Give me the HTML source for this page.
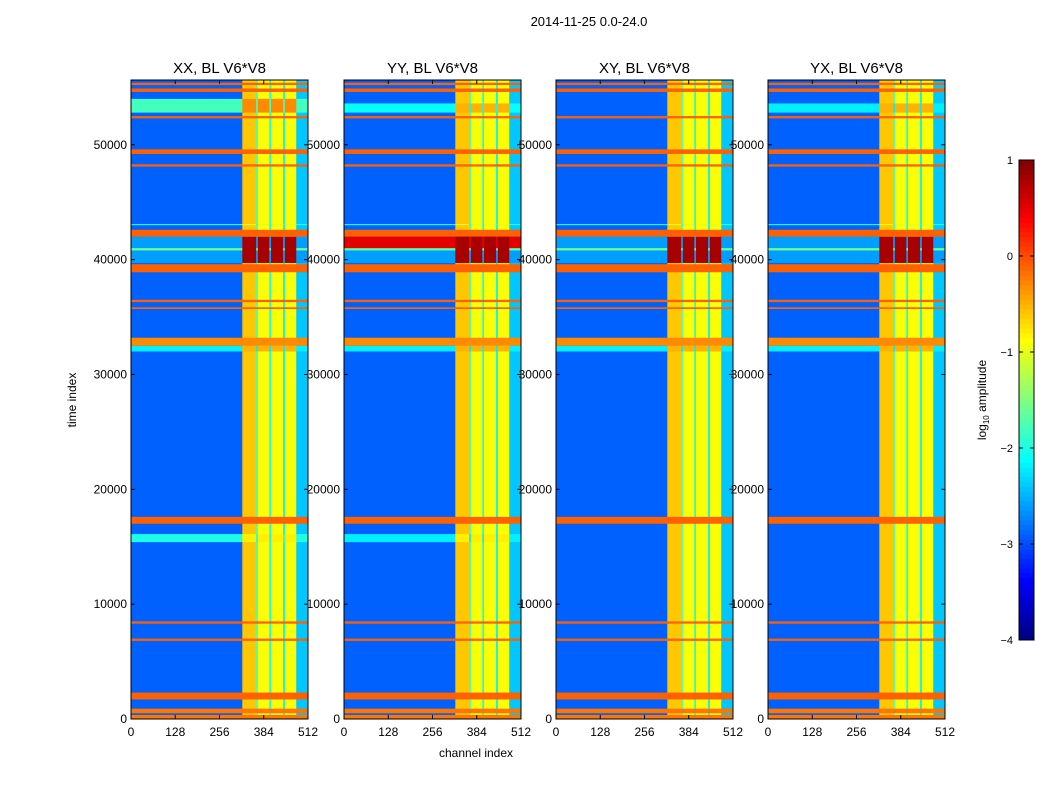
<!DOCTYPE html>
<html><head><meta charset="utf-8"><style>
body{margin:0;background:#fff;font-family:"Liberation Sans",sans-serif}
svg text{font-family:"Liberation Sans",sans-serif;fill:#000}
</style></head><body>
<svg id="fig" width="1050" height="800"></svg>
<script>
const titles=["XX, BL V6*V8","YY, BL V6*V8","XY, BL V6*V8","YX, BL V6*V8"];
const xTicks=[0,128,256,384,512];
const yTicks=[0,10000,20000,30000,40000,50000];
const cbTicks=[1,0,-1,-2,-3,-4];
// channel bands: [startChan,endChan,log10 amplitude,isRfiBand]
const chanBands=[[0,322,-2.9,0],[322,362,-0.6,1],[362,367,-1.8,0],[367,400,-0.9,1],[400,405,-2.0,0],[405,440,-0.9,1],[440,445,-2.2,0],[445,478,-0.9,1],[478,512,-2.4,0]];
// time rows: [t0,t1,bgValue,bandValue]
const timeRows=[[0,350,-0.2,-0.2],[500,900,-0.2,-0.2],[1700,2300,-0.1,-0.1],[6800,7000,-0.1,-0.1],[8300,8500,-0.1,-0.1],[17000,17600,-0.1,-0.1],[32000,32500,-2.2,-0.5],[32500,33200,-0.3,-0.3],[35700,35850,-0.1,-0.1],[36300,36500,-0.1,-0.1],[38900,39600,-0.1,-0.1],[39700,42000,-2.6,0.8],[40800,41000,-1.6,0.8],[42000,42600,-0.1,-0.1],[43000,43100,-2.0,-1.0],[48100,48300,-0.1,-0.1],[49200,49600,-0.1,-0.1],[52300,52500,-0.1,-0.1],[54600,54900,-0.1,-0.1],[55200,55400,-0.1,-0.1]];
// panel-specific extra rows: [panel,t0,t1,bgValue,bandValue]
const extraRows=[[0,15400,16100,-2.0,-0.8],[0,52800,54000,-1.8,-0.3],[1,15400,16100,-2.2,-0.8],[1,41000,42000,0.5,0.8],[1,52800,53600,-2.1,-0.5],[3,52800,53600,-2.2,-0.5]];

const NS="http://www.w3.org/2000/svg";
const svg=document.getElementById('fig');
function el(t,a){const e=document.createElementNS(NS,t);for(const k in a)e.setAttribute(k,a[k]);svg.appendChild(e);return e;}
function jet(v){let t=Math.max(0,Math.min(1,(v+4)/5));
 const f=x=>Math.max(0,Math.min(1,x));
 const r=f(1.5-Math.abs(4*t-3)),g=f(1.5-Math.abs(4*t-2)),b=f(1.5-Math.abs(4*t-1));
 return `rgb(${Math.round(r*255)},${Math.round(g*255)},${Math.round(b*255)})`;}
const panelX=[131,344,556,768],PW=177,PT=80,PB=719,TMAX=55640;
const yS=t=>PB-(t/TMAX)*(PB-PT);
let tt=el('text',{x:589,y:26,'font-size':13,'text-anchor':'middle'});tt.textContent="2014-11-25 0.0-24.0";

panelX.forEach((px,p)=>{
 const xS=c=>px+c/512*PW;
 const g=el('g',{});
 
 chanBands.forEach(cb=>{const r=el('rect',{x:xS(cb[0]),y:PT,width:xS(cb[1])-xS(cb[0])+0.3,height:PB-PT,fill:jet(cb[2])});
  });
 const rows=timeRows.concat(extraRows.filter(e=>e[0]===p).map(e=>e.slice(1)));
 rows.forEach(rw=>{chanBands.forEach(cb=>{const v=cb[3]?rw[3]:rw[2];
  const r=el('rect',{x:xS(cb[0]),y:yS(rw[1]),width:xS(cb[1])-xS(cb[0])+0.3,height:Math.max(1,yS(rw[0])-yS(rw[1])),fill:jet(v)});
  });});
 const fr=el('rect',{x:px,y:PT,width:PW,height:PB-PT,fill:'none',stroke:'#000','stroke-width':1});
 
 const t=el('text',{x:px+PW/2,y:73,'font-size':15,'text-anchor':'middle'});t.textContent=titles[p];
 
 xTicks.forEach(v=>{const x=xS(v);el('line',{x1:x,x2:x,y1:PB,y2:PB-4,stroke:'#000'});el('line',{x1:x,x2:x,y1:PT,y2:PT+4,stroke:'#000'});
  const l=el('text',{x:x,y:736,'font-size':12,'text-anchor':'middle'});l.textContent=v;
  });
 yTicks.forEach(v=>{const y=yS(v);el('line',{x1:px,x2:px+4,y1:y,y2:y,stroke:'#000'});el('line',{x1:px+PW,x2:px+PW-4,y1:y,y2:y,stroke:'#000'});
  const l=el('text',{x:px-4,y:y+4,'font-size':12,'text-anchor':'end'});l.textContent=v;
  });
});
let xl=el('text',{x:476,y:757,'font-size':12,'text-anchor':'middle'});xl.textContent="channel index";

let yl=el('text',{x:76,y:400,'font-size':12,'text-anchor':'middle',transform:'rotate(-90 76 400)'});yl.textContent="time index";

// colorbar
const CX=1019,CW=15,CT=160,CB=640;
const cy=v=>CB-(v+4)/5*(CB-CT);
for(let i=0;i<100;i++){const v=-4+i*0.05;const r=el('rect',{x:CX,y:cy(v+0.05),width:CW,height:(CB-CT)/100+0.5,fill:jet(v+0.025)});
 }
const cbf=el('rect',{x:CX,y:CT,width:CW,height:CB-CT,fill:'none',stroke:'#000'});

cbTicks.forEach(v=>{const y=cy(v);el('line',{x1:CX,x2:CX+4,y1:y,y2:y,stroke:'#000'});el('line',{x1:CX+CW,x2:CX+CW-4,y1:y,y2:y,stroke:'#000'});
 const l=el('text',{x:CX-6,y:y+4,'font-size':11,'text-anchor':'end'});l.textContent=v<0?'\u2212'+(-v):v;
 });
const cl=el('text',{x:986,y:400,'font-size':12,'text-anchor':'middle',transform:'rotate(-90 986 400)'});
cl.innerHTML='log<tspan font-size="8" dy="3">10</tspan><tspan dy="-3"> amplitude</tspan>';

</script>
</body></html>
